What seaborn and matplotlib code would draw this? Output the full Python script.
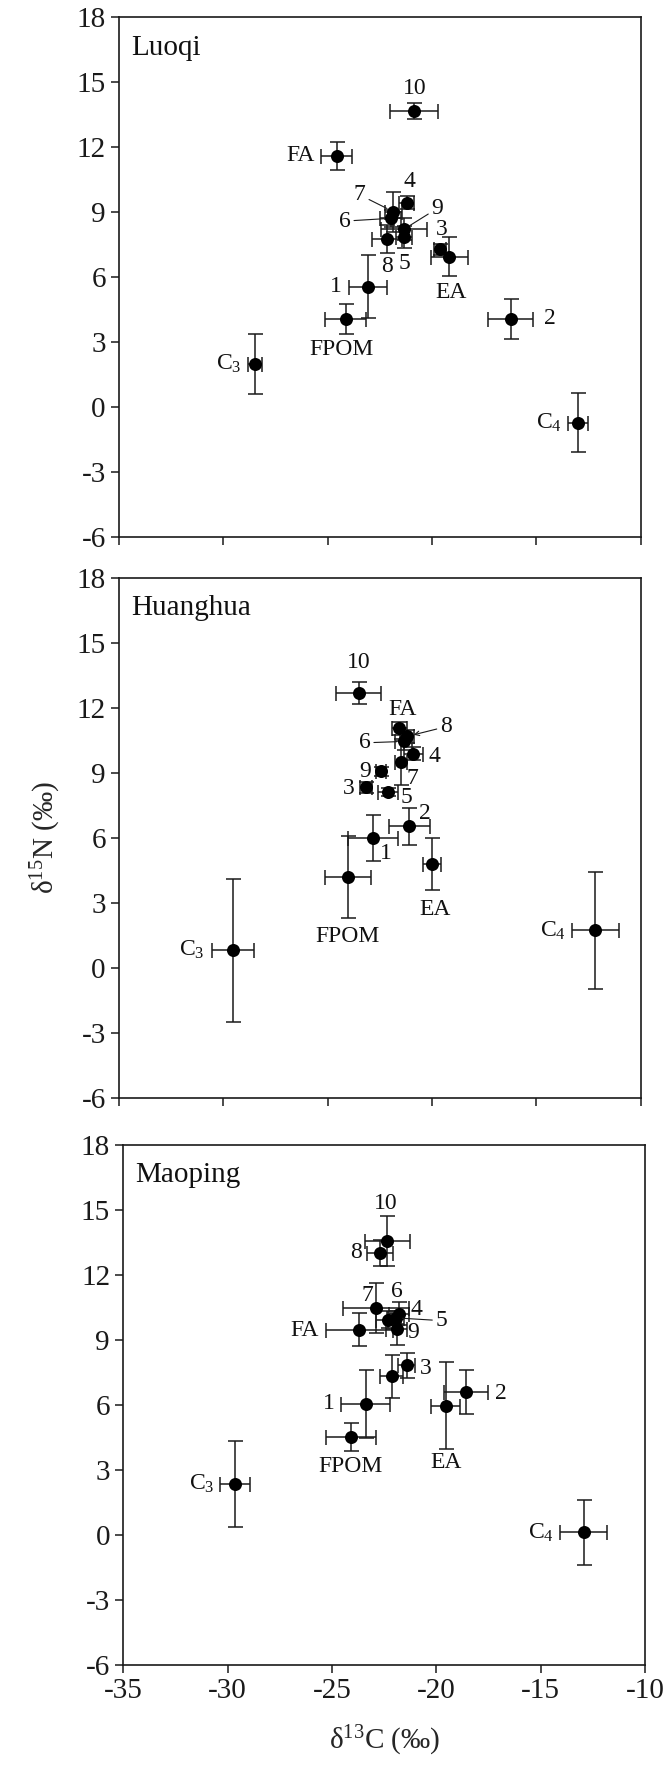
import numpy as np
import pandas as pd
import matplotlib
matplotlib.use('Agg')
import matplotlib.pyplot as plt
import seaborn as sns

# ---- data ----
sites = ['Luoqi', 'Huanghua', 'Maoping']

luoqi_labels = ['C$_3$', 'FPOM', '1', 'FA', '10', '4', '7', '6', '9', '5', '8', '3', 'EA', '2', 'C$_4$']
luoqi_d13c = [-28.48, -24.14, -23.05, -24.57, -20.85, -21.21, -21.86, -21.98, -21.34, -21.34, -22.17, -19.62, -19.17, -16.23, -12.99]
luoqi_d15n = [1.99, 4.08, 5.57, 11.61, 13.68, 9.44, 9.03, 8.72, 8.22, 7.85, 7.76, 7.29, 6.95, 4.08, -0.71]
luoqi_c_sd = [0.35, 0.99, 0.91, 0.73, 1.14, 0.35, 0.40, 0.50, 1.10, 0.40, 0.72, 0.30, 0.90, 1.08, 0.48]
luoqi_n_sd = [1.37, 0.68, 1.45, 0.64, 0.36, 0.30, 0.92, 0.40, 0.50, 0.50, 0.65, 0.25, 0.90, 0.92, 1.36]

huanghua_labels = ['C$_3$', 'FPOM', '1', '2', 'EA', '5', '3', '9', '7', '4', '6', '8', 'FA', '10', 'C$_4$']
huanghua_d13c = [-29.55, -24.03, -22.81, -21.08, -20.00, -22.12, -23.16, -22.45, -21.49, -20.89, -21.36, -21.20, -21.56, -23.52, -12.17]
huanghua_d15n = [0.80, 4.18, 5.98, 6.52, 4.80, 8.11, 8.32, 9.06, 9.49, 9.87, 10.44, 10.67, 11.06, 12.68, 1.72]
huanghua_c_sd = [1.00, 1.10, 1.20, 0.97, 0.42, 0.47, 0.30, 0.25, 0.30, 0.44, 0.40, 0.35, 0.35, 1.06, 1.12]
huanghua_n_sd = [3.30, 1.90, 1.08, 0.86, 1.20, 0.20, 0.25, 0.20, 1.05, 0.30, 0.40, 0.30, 0.30, 0.50, 2.69]

maoping_labels = ['C$_3$', 'FPOM', '1', '', '3', 'EA', '2', 'FA', '9', '5', '6', '4', '7', '8', '10', 'C$_4$']
maoping_d13c = [-29.65, -24.09, -23.39, -22.14, -21.42, -19.55, -18.59, -23.69, -21.90, -21.95, -22.30, -21.79, -22.91, -22.70, -22.35, -12.94]
maoping_d15n = [2.36, 4.51, 6.05, 7.32, 7.83, 5.97, 6.58, 9.48, 9.52, 10.02, 9.94, 10.21, 10.48, 13.02, 13.55, 0.12]
maoping_c_sd = [0.70, 1.20, 1.19, 0.56, 0.40, 0.70, 1.05, 1.61, 0.50, 0.40, 0.60, 0.48, 1.58, 0.64, 1.09, 1.12]
maoping_n_sd = [1.98, 0.65, 1.58, 0.98, 0.58, 2.00, 1.02, 0.77, 0.74, 0.30, 0.40, 0.52, 1.14, 0.60, 1.15, 1.50]

y_ticks = [-6, -3, 0, 3, 6, 9, 12, 15, 18]
x_ticks = [-35, -30, -25, -20, -15, -10]

# label placement: label -> (dx pt, dy pt, ha, leader)
place = {
    'Luoqi': {
        'C$_3$': (-10, 0, 'right', None), 'FPOM': (-3, -22, 'center', None),
        '1': (-19, 0, 'right', None), 'FA': (-16, 0, 'right', None),
        '10': (0, 16, 'center', None), '4': (2, 15, 'center', None),
        '7': (-24, 12, 'center', '-'), '6': (-33, -2, 'center', '-'),
        '9': (24, 15, 'center', '-'), '5': (0, -19, 'center', None),
        '8': (0, -20, 'center', None), '3': (1, 14, 'center', None),
        'EA': (1, -26, 'center', None), '2': (24, 0, 'left', None),
        'C$_4$': (-12, 0, 'right', None),
    },
    'Huanghua': {
        'C$_3$': (-20, 0, 'right', None), 'FPOM': (0, -43, 'center', None),
        '1': (9, -11, 'center', None), '2': (11, 9, 'center', None),
        'EA': (2, -33, 'center', None), '5': (9, -4, 'left', None),
        '3': (-8, -1, 'right', None), '9': (-7, 0, 'right', None),
        '7': (8, -12, 'center', None), '4': (11, -2, 'left', None),
        '6': (-28, -1, 'center', '-'), '8': (28, 7, 'center', '->'),
        'FA': (2, 13, 'center', None), '10': (0, 22, 'center', None),
        'C$_4$': (-21, 0, 'right', None),
    },
    'Maoping': {
        'C$_3$': (-15, 0, 'right', None), 'FPOM': (0, -21, 'center', None),
        '1': (-22, 0, 'right', None), '3': (14, -2, 'center', None),
        'EA': (0, -41, 'center', None), '2': (21, -1, 'left', None),
        'FA': (-29, -1, 'right', None), '9': (12, -3, 'center', None),
        '5': (33, -2, 'center', '-'), '6': (6, 20, 'center', None),
        '4': (8, 3, 'left', None), '7': (-6, 9, 'center', None),
        '8': (-13, 0, 'right', None), '10': (-1, 27, 'center', None),
        'C$_4$': (-21, 0, 'right', None),
    },
}

frames = []
for site, lab, xc, yn, xs, ys in [
        ('Luoqi', luoqi_labels, luoqi_d13c, luoqi_d15n, luoqi_c_sd, luoqi_n_sd),
        ('Huanghua', huanghua_labels, huanghua_d13c, huanghua_d15n, huanghua_c_sd, huanghua_n_sd),
        ('Maoping', maoping_labels, maoping_d13c, maoping_d15n, maoping_c_sd, maoping_n_sd)]:
    frames.append(pd.DataFrame({'site': site, 'label': lab, 'd13C': xc,
                                'd15N': yn, 'c_sd': xs, 'n_sd': ys}))
df = pd.concat(frames, ignore_index=True)

# ---- style ----
sns.set_style('white')
plt.rcParams['font.family'] = ['Liberation Serif', 'DejaVu Serif']
plt.rcParams['mathtext.fontset'] = 'custom'
plt.rcParams['mathtext.rm'] = 'Liberation Serif'
plt.rcParams['mathtext.it'] = 'Liberation Serif:italic'
plt.rcParams['axes.unicode_minus'] = False

fig = plt.figure(figsize=(6.66, 17.79), dpi=100)
boxes = [[0.1787, 0.6980, 0.7833, 0.2923],
         [0.1787, 0.3830, 0.7833, 0.2923],
         [0.1851, 0.0641, 0.7833, 0.2923]]

for i, site in enumerate(sites):
    ax = fig.add_axes(boxes[i])
    d = df[df['site'] == site]
    ax.errorbar(d['d13C'], d['d15N'], xerr=d['c_sd'], yerr=d['n_sd'], fmt='none',
                ecolor='#1a1a1a', elinewidth=1.1, capsize=5.4, capthick=1.1, zorder=2)
    sns.scatterplot(data=d, x='d13C', y='d15N', ax=ax, color='black', s=88,
                    edgecolor='black', linewidth=0, zorder=3, legend=False)

    for _, r in d.iterrows():
        if r['label'] == '':
            continue
        dx, dy, ha, lead = place[site][r['label']]
        arrow = None
        if lead is not None:
            arrow = dict(arrowstyle=lead, lw=0.8, color='#1a1a1a', shrinkA=0, shrinkB=5,
                         mutation_scale=8)
        ax.annotate(r['label'], xy=(r['d13C'], r['d15N']), xytext=(dx, dy),
                    textcoords='offset points', ha=ha, va='center', fontsize=17,
                    color='#111111', arrowprops=arrow, zorder=4)

    ax.set_xlim(-35, -10)
    ax.set_ylim(-6, 18)
    ax.set_xticks(x_ticks)
    ax.set_yticks(y_ticks)
    ax.tick_params(direction='out', length=6, width=1.1, labelsize=21,
                   bottom=True, left=True, top=False, right=False, colors='#1a1a1a')
    for sp in ax.spines.values():
        sp.set_visible(True)
        sp.set_color('#1a1a1a')
        sp.set_linewidth(1.2)
    ax.set_xlabel('')
    ax.set_ylabel('')
    if i < 2:
        ax.set_xticklabels([])
    ax.text(0.023, 0.928, site, transform=ax.transAxes, fontsize=21,
            ha='left', va='baseline', color='#111111')

    if i == 1:
        ax.set_ylabel('δ$^{15}$N (‰)', fontsize=21, labelpad=10)
    if i == 2:
        ax.set_xlabel('δ$^{13}$C (‰)', fontsize=21, labelpad=14)

fig.savefig('out.png', dpi=100, facecolor='white')
